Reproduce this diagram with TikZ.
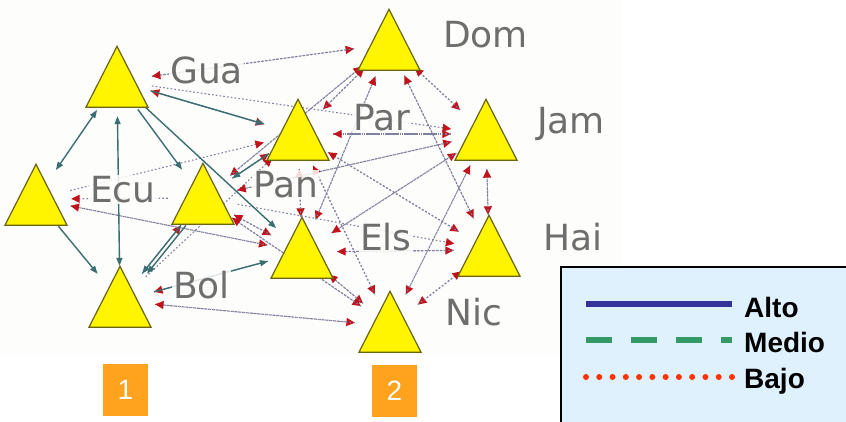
\documentclass[tikz,border=0pt]{standalone}
\usepackage{fontspec}
\setmainfont{Liberation Sans}
\newfontfamily\labfont{DejaVu Sans}
\usetikzlibrary{arrows.meta,shapes.geometric}
\definecolor{bgc}{HTML}{FDFDFB}
\definecolor{labgray}{HTML}{6E6E6E}
\definecolor{triyel}{HTML}{FFF500}
\definecolor{triedge}{HTML}{6B6410}
\definecolor{tealc}{HTML}{3B6E72}
\definecolor{dotc}{HTML}{7F7FA0}
\definecolor{arrred}{HTML}{C0141C}
\definecolor{legbg}{HTML}{DFF1FD}
\definecolor{altoc}{HTML}{333399}
\definecolor{medioc}{HTML}{339966}
\definecolor{bajoc}{HTML}{FF3300}
\definecolor{boxor}{HTML}{FFA21D}
\tikzset{
  tri/.style={isosceles triangle, shape border rotate=90, isosceles triangle apex angle=54,
    minimum width=61pt, minimum height=61pt, inner sep=0pt, anchor=apex,
    draw=triedge, line width=1.2pt, fill=triyel},
  hub/.style={circle, minimum size=70pt, inner sep=0pt},
  weak/.style={draw=dotc, line width=1.1pt, dash pattern=on 1.6pt off 2.2pt,
    -{Triangle[length=8.5pt,width=8pt,color=arrred]}},
  strong/.style={draw=tealc, line width=1.4pt, -{Triangle[length=8pt,width=6pt]}},
  lab/.style={font=\labfont\fontsize{36}{36}\selectfont, text=labgray, anchor=base west,
    inner sep=1pt, fill=bgc, fill opacity=0.85, text opacity=1},
  legtext/.style={font=\bfseries\fontsize{28}{28}\selectfont, anchor=base west, inner sep=0pt},
  numbox/.style={fill=boxor, text=white, minimum width=45pt, minimum height=52pt, inner sep=0pt,
    font=\fontsize{28}{28}\selectfont}
}
\begin{document}
\begin{tikzpicture}[x=1pt,y=-1pt]
\useasboundingbox (0,0) rectangle (846,421);
\fill[white] (0,0) rectangle (846,421);
\fill[bgc] (0,0) rectangle (622,355);
% hubs (invisible anchors for connectors)
\node[hub] (gua) at (117,81) {};
\node[hub] (ecu) at (36,199) {};
\node[hub] (pan) at (203,198) {};
\node[hub] (bol) at (120,301) {};
\node[hub] (par) at (298,134) {};
\node[hub] (els) at (302,252) {};
\node[hub] (dom) at (389,44) {};
\node[hub] (jam) at (486,134) {};
\node[hub] (hai) at (489,250) {};
\node[hub] (nic) at (390,326) {};
% weak (dotted) links
\foreach \s/\t in {gua/dom, gua/par, gua/jam,
  dom/gua, dom/par, dom/pan, dom/jam, dom/els, dom/hai,
  par/gua, par/dom, par/jam, par/els, par/hai, par/nic,
  pan/dom, pan/par, pan/jam, pan/els, pan/nic, pan/ecu, pan/hai,
  ecu/els, ecu/par, bol/nic, bol/par, bol/pan,
  els/dom, els/par, els/jam, els/hai, els/nic, els/bol, els/pan, els/ecu,
  jam/dom, jam/par, jam/hai, jam/nic, jam/els, jam/pan,
  hai/jam, hai/els, hai/nic, hai/par, hai/dom,
  nic/els, nic/hai, nic/jam, nic/bol, nic/pan, nic/par}
  \draw[weak] (\s) -- (\t);
% strong (solid) links
\draw[strong, {Triangle[length=8pt,width=6pt]}-{Triangle[length=8pt,width=6pt]}] (gua) -- (ecu);
\draw[strong, {Triangle[length=8pt,width=6pt]}-{Triangle[length=8pt,width=6pt]}] (gua) -- (bol);
\draw[strong] (ecu) -- (bol);
\draw[strong] (gua) -- (par);
\draw[strong] (gua) -- (pan);
\draw[strong] (par) -- (pan);
\draw[strong] (gua) -- (els);
\draw[strong] (pan) -- (bol);
\draw[strong, transform canvas={xshift=5pt}] (pan) -- (bol);
\draw[strong] (bol) -- (els);
% triangles
\node[tri] (guaT) at (117,45) {};
\node[tri] (ecuT) at (36,163) {};
\node[tri] (panT) at (203,162) {};
\node[tri] (bolT) at (120,265) {};
\node[tri] (parT) at (298,98) {};
\node[tri] (elsT) at (302,216) {};
\node[tri] (domT) at (389,8) {};
\node[tri] (jamT) at (486,98) {};
\node[tri] (haiT) at (489,214) {};
\node[tri] (nicT) at (390,290) {};
% labels
\node[lab] (guaL) at (169,83) {Gua};
\node[lab] (domL) at (442,47) {Dom};
\node[lab] (parL) at (352,130) {Par};
\node[lab] (jamL) at (536,133) {Jam};
\node[lab] (panL) at (252,197) {Pan};
\node[lab] (ecuL) at (89,202) {Ecu};
\node[lab] (elsL) at (359,250) {Els};
\node[lab] (haiL) at (542,250) {Hai};
\node[lab] (nicL) at (444,325) {Nic};
\node[lab] (bolL) at (172,298) {Bol};
% legend
\draw[line width=2pt, fill=legbg] (561,267) rectangle (850,425);
\coordinate (a1) at (586,304); \coordinate (a2) at (732,304);
\coordinate (m1) at (586,340); \coordinate (m2) at (732,340);
\coordinate (b1) at (586,377); \coordinate (b2) at (732,377);
\draw[altoc, line width=6pt] (a1) -- (a2);
\draw[medioc, line width=6pt, dash pattern=on 26pt off 19pt] (m1) -- (m2);
\draw[bajoc, line width=6pt, line cap=round, dash pattern=on 0pt off 13.27pt] (b1) -- (b2);
\node[legtext] (altoL) at (744,317) {Alto};
\node[legtext] (medioL) at (744,352) {Medio};
\node[legtext] (bajoL) at (744,388) {Bajo};
% numbered boxes
\node[numbox] (box1) at (125.5,390) {1};
\node[numbox] (box2) at (394.5,391) {2};
\end{tikzpicture}
\end{document}
